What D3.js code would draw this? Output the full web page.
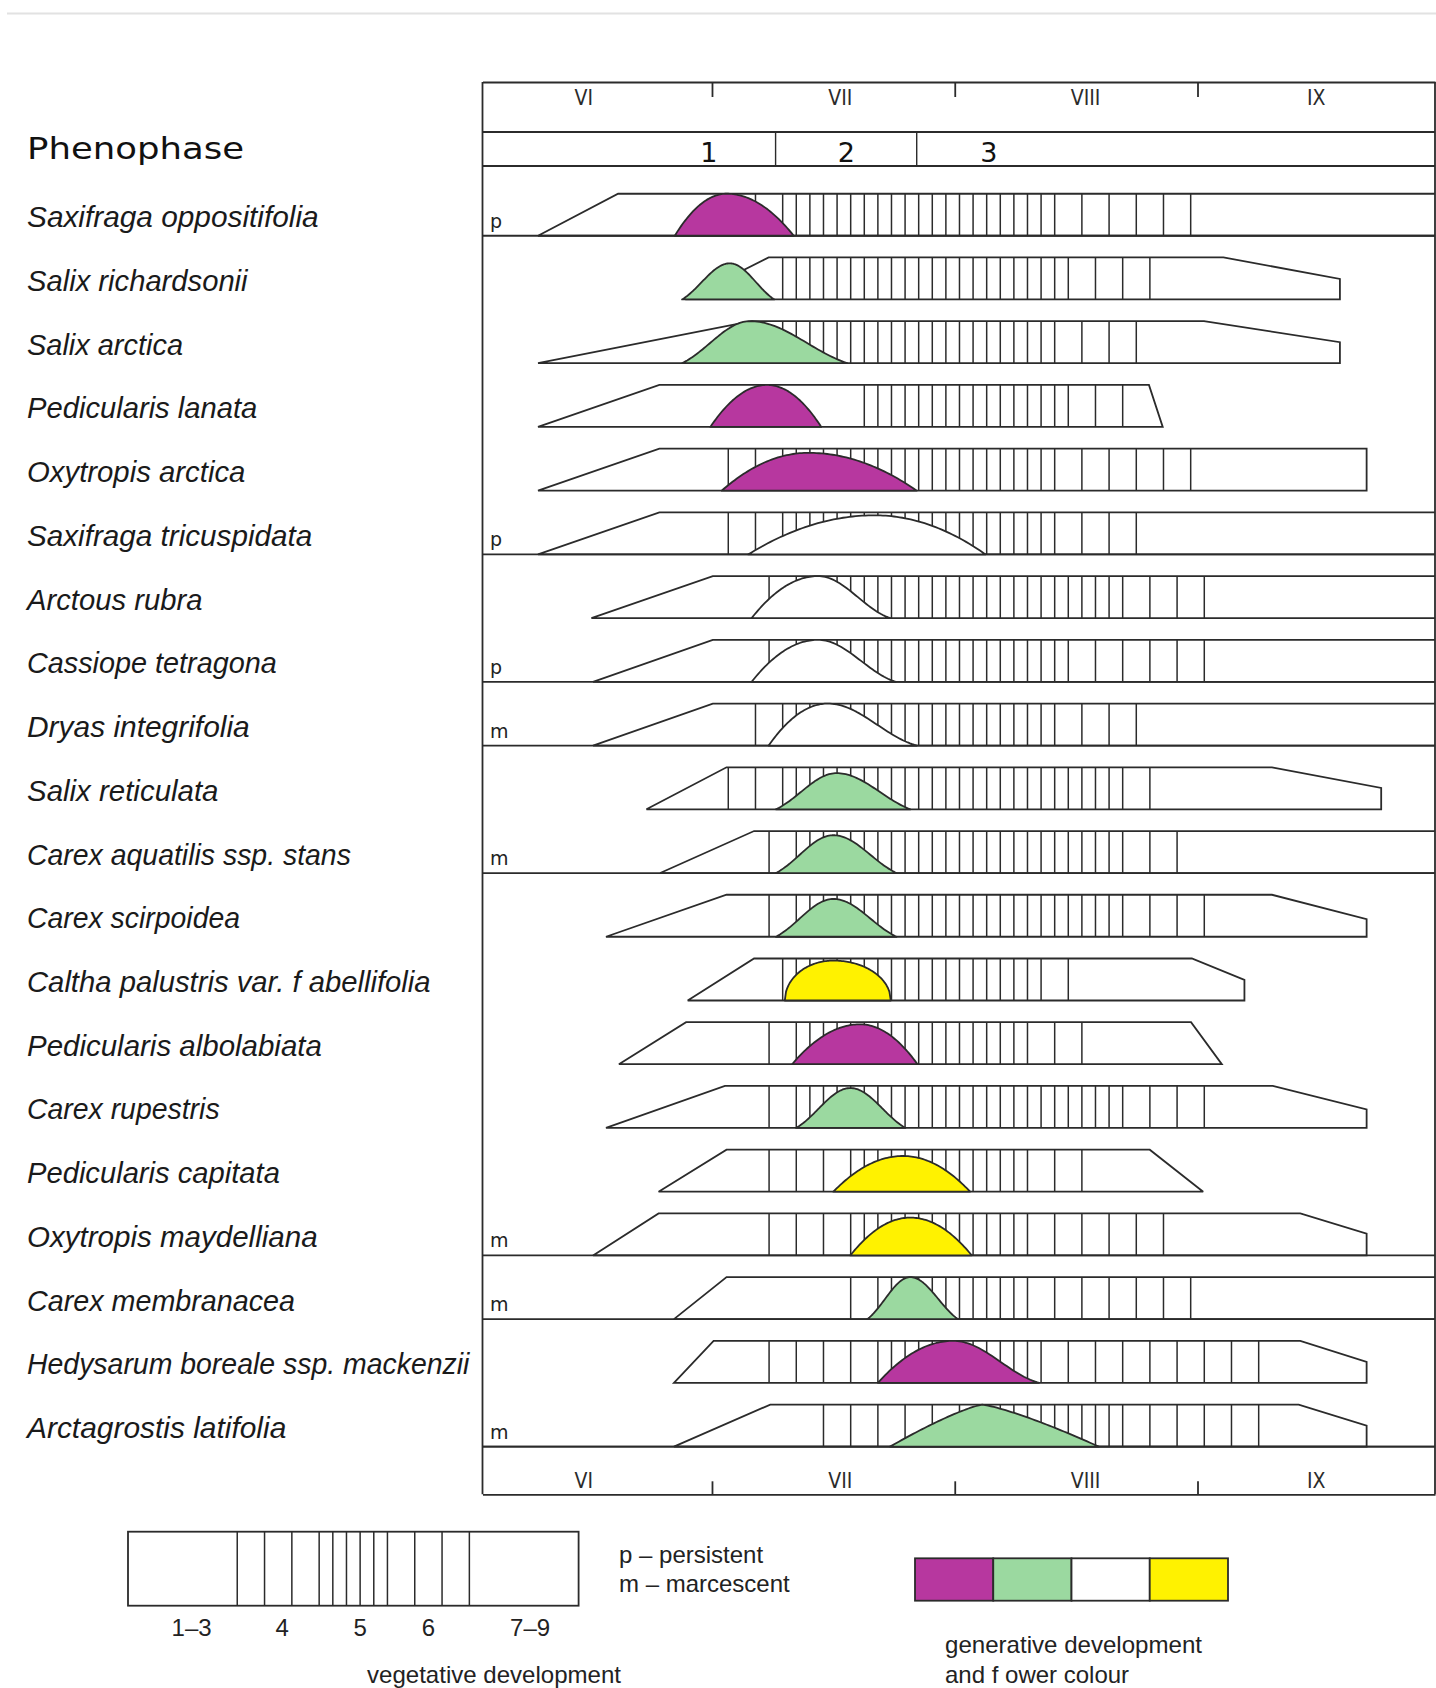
<!DOCTYPE html>
<html>
<head>
<meta charset="utf-8">
<script src="https://cdn.jsdelivr.net/npm/d3@7/dist/d3.min.js"></script>
<style>
html,body{margin:0;padding:0;background:#fff;}
svg{display:block;}
</style>
</head>
<body>
<svg id="chart" width="1436" height="1688"></svg>
<script>
// ================= DATA =================
// Time is counted in days from 1 June; each month is drawn 30 days wide.
const months = ["VI", "VII", "VIII", "IX"];
const monthMid = [14.1, 45.8, 76.1, 104.6];
const monthBounds = [30, 60, 90];

const phenophases = ["1", "2", "3"];
const phenophaseLabelDay = [29.6, 46.6, 64.2];
const phenophaseBounds = [37.86, 55.3];

const species = [
  "Saxifraga oppositifolia", "Salix richardsonii", "Salix arctica", "Pedicularis lanata",
  "Oxytropis arctica", "Saxifraga tricuspidata", "Arctous rubra", "Cassiope tetragona",
  "Dryas integrifolia", "Salix reticulata", "Carex aquatilis ssp. stans", "Carex scirpoidea",
  "Caltha palustris var. f abellifolia", "Pedicularis albolabiata", "Carex rupestris",
  "Pedicularis capitata", "Oxytropis maydelliana", "Carex membranacea",
  "Hedysarum boreale ssp. mackenzii", "Arctagrostis latifolia"
];
// p = persistent, m = marcescent
const leafType = ["p","","","","","p","","p","m","","m","","","","","","m","m","","m"];

// vegetative development outline (days); null = continues past the end of the record
const vegStart        = [8.5, 26.7, 8.5, 8.5, 8.5, 8.5, 15.1, 15.3, 15.3, 21.9, 23.6, 16.9, 27.0, 18.5, 16.9, 23.4, 15.3, 25.3, 25.3, 25.3];
const vegFull         = [18.4, 37.0, 34.9, 23.5, 23.5, 23.5, 30.1, 30.1, 30.1, 31.8, 35.2, 31.8, 35.2, 26.8, 31.6, 31.8, 23.4, 31.8, 30.2, 37.2];
const vegDeclineStart = [null, 93.2, 90.8, 84.0, 110.9, null, null, null, null, 99.2, null, 99.2, 89.3, 89.2, 99.3, 84.1, 102.7, null, 102.7, 102.5];
const vegEnd          = [null, 107.6, 107.6, 85.7, 110.9, null, null, null, null, 112.7, null, 110.9, 95.8, 93.0, 110.9, 90.7, 110.9, null, 110.9, 110.9];
const vegEndLevel     = [null, 0.49, 0.5, 0, 1, null, null, null, null, 0.51, null, 0.42, 0.49, 0, 0.44, 0, 0.52, null, 0.5, 0.5];

// vegetative phases 4, 5, 6 as hatch-cell indices (start of 4, start of 5, start of 6, end of 6)
const phase4   = [20, 22, 22, 28, 18, 18, 21, 21, 20, 18, 21, 21, 22, 21, 21, 21, 21, 27, 21, 25];
const phase5   = [22, 22, 22, 28, 22, 22, 23, 23, 22, 22, 23, 23, 22, 23, 23, 27, 27, 29, 29, 37];
const phase6   = [42, 43, 42, 43, 42, 42, 47, 43, 42, 47, 47, 47, 41, 40, 47, 40, 40, 40, 41, 47];
const phaseEnd = [52, 49, 48, 47, 52, 48, 53, 53, 48, 49, 51, 53, 43, 44, 53, 44, 50, 52, 57, 57];

// generative development (flowering curve), days
const flowerStart = [25.4, 26.3, 26.3, 29.8, 31.2, 34.5, 34.9, 34.9, 37.0, 37.9, 37.9, 37.9, 39.0, 39.9, 40.4, 45.0, 47.1, 49.2, 50.5, 52.0];
const flowerPeak  = [31.8, 32.2, 34.7, 36.8, 41.9, 50.1, 43.1, 43.1, 44.3, 45.4, 45.0, 45.0, 45.0, 48.3, 47.1, 53.6, 54.5, 54.5, 59.8, 63.4];
const flowerEnd   = [40.1, 37.7, 46.7, 43.5, 55.3, 63.8, 52.0, 52.7, 55.3, 54.5, 52.8, 52.8, 52.1, 55.4, 53.9, 61.9, 62.1, 60.4, 70.4, 77.8];
const flowerLevel = [1, 0.86, 1, 1, 0.9, 0.93, 1, 1, 1, 0.86, 0.9, 0.9, 0.95, 0.95, 0.95, 0.85, 0.9, 1, 1, 1];
const flowerColour = ["purple","green","green","purple","purple","white","white","white","white","green","green","green","yellow","purple","green","yellow","yellow","green","purple","green"];
const flowerForm   = ["dome","bell","bell","dome","dome","dome","skew","skew","skew","bell","bell","bell","round","dome","bell","dome","dome","bell","skew","tri"];

// legends
const vegLegendPhases = ["1–3", "4", "5", "6", "7–9"];
const vegLegendCells  = [8, 6, 5, 6, 8];      // width in hatch cells
const vegLegendStep   = [0, 2, 1, 2, 0];      // hatch spacing in cells (0 = none)
const vegLegendLabelAt = [4.66, 11.3, 17.0, 22.0, 29.45];
const leafLegend = ["p – persistent", "m – marcescent"];
const colourLegend = ["purple", "green", "white", "yellow"];

// ================= STYLE / LAYOUT =================
const COLOURS = { purple: "#b7379f", green: "#9bd9a0", white: "#ffffff", yellow: "#fff200" };
const INK = "#2b2b2b";
const FR = { left: 482.5, right: 1435, top: 82, monthLine: 132, phaseLine: 166, rowsTop: 172, rowsBottom: 1446.6, bottom: 1494.3 };
const ROW_H = 42;
const HATCH_ORIGIN = 1.761, HATCH_STEP = 1.6807;   // hatch grid in days
const LABEL_W = [291.6, 220.6, 156, 230.3, 218.4, 285.2, 175.4, 249.7, 222.7, 191.5, 323.9, 213, 403.6, 294.9, 192.6, 252.9, 290.6, 268, 442.4, 259.3];
const SANS = "'Liberation Sans', Arial, sans-serif";
const NARROW = "'Liberation Sans Narrow', 'DejaVu Sans Condensed', 'Liberation Sans', sans-serif";
const LW = 1.8;

// ================= DRAW =================
const svg = d3.select("#chart");
const x = d3.scaleLinear().domain([1.64, 119.35]).range([FR.left, FR.right]);
const y = d3.scaleBand().domain(species).range([FR.rowsTop, FR.rowsBottom]);
const base = s => y(s) + y.bandwidth();
const hatchDay = k => HATCH_ORIGIN + k * HATCH_STEP;

// faint rule at the very top
svg.append("line").attr("x1", 7).attr("x2", 1436).attr("y1", 13.5).attr("y2", 13.5)
  .attr("stroke", "#e2e2e2").attr("stroke-width", 2);

// ---- frame ----
const frame = svg.append("g").attr("stroke", INK).attr("stroke-width", LW).attr("fill", "none");
[FR.monthLine, FR.phaseLine, FR.rowsBottom].forEach(v =>
  frame.append("line").attr("x1", FR.left).attr("x2", FR.right).attr("y1", v).attr("y2", v));
[FR.left, FR.right].forEach(v =>
  frame.append("line").attr("x1", v).attr("x2", v).attr("y1", FR.top).attr("y2", FR.bottom));

// ---- month axes ----
function styleAxis(g) {
  g.selectAll(".domain, .tick line").attr("stroke", INK).attr("stroke-width", LW);
  g.selectAll("text").attr("font-family", NARROW).attr("font-size", 21).attr("fill", INK);
}
svg.append("g").attr("transform", `translate(0,${FR.top})`)
  .call(d3.axisBottom(x).tickValues(monthBounds).tickSize(15).tickSizeOuter(0).tickFormat(""))
  .call(styleAxis);
svg.append("g").attr("transform", `translate(0,${FR.top})`)
  .call(d3.axisBottom(x).tickValues(monthMid).tickSize(0).tickPadding(8).tickFormat((d, i) => months[i]))
  .call(g => g.select(".domain").remove()).call(styleAxis);
svg.append("g").attr("transform", `translate(0,${FR.bottom})`)
  .call(d3.axisTop(x).tickValues(monthBounds).tickSize(13).tickSizeOuter(0).tickFormat(""))
  .call(styleAxis);
svg.append("g").attr("transform", `translate(0,${FR.bottom})`)
  .call(d3.axisTop(x).tickValues(monthMid).tickSize(0).tickPadding(6).tickFormat((d, i) => months[i]))
  .call(g => g.select(".domain").remove()).call(styleAxis);

// ---- phenophase row ----
svg.append("text").attr("x", 27).attr("y", 159).text("Phenophase")
  .attr("font-family", "'DejaVu Sans', sans-serif").attr("font-size", 31).attr("fill", "#111")
  .attr("textLength", 217).attr("lengthAdjust", "spacingAndGlyphs");
svg.append("g").selectAll("line").data(phenophaseBounds).join("line")
  .attr("x1", d => x(d)).attr("x2", d => x(d)).attr("y1", FR.monthLine).attr("y2", FR.phaseLine)
  .attr("stroke", INK).attr("stroke-width", 1.4);
svg.append("g").selectAll("text").data(phenophases).join("text")
  .attr("x", (d, i) => x(phenophaseLabelDay[i])).attr("y", 162).attr("text-anchor", "middle")
  .attr("font-family", "'DejaVu Sans', sans-serif").attr("font-size", 27).attr("fill", "#111").text(d => d);

// ---- species rows ----
const rowsG = svg.append("g");
function formVal(kind, t, side) {
  const cosS = (1 - Math.cos(Math.PI * t)) / 2;
  const dome = 1 - (1 - t) * (1 - t);
  switch (kind) {
    case "dome":  return dome;
    case "round": return Math.sqrt(Math.max(0, 1 - (1 - t) * (1 - t)));
    case "bell":  return 0.6 * cosS + 0.4 * dome;
    case "tri":   return 1 - Math.pow(1 - t, 1.25);
    case "skew":  return side === "L" ? dome : 0.7 * cosS + 0.3 * dome;
  }
  return t;
}

species.forEach((s, i) => {
  const b = base(s);
  const line = d3.line().x(d => x(d[0])).y(d => b - d[1] * ROW_H);
  const g = rowsG.append("g");

  // full-width separator for persistent / marcescent rows
  if (leafType[i]) {
    g.append("line").attr("x1", FR.left).attr("x2", FR.right).attr("y1", b).attr("y2", b)
      .attr("stroke", INK).attr("stroke-width", LW);
  }

  // hatching (vegetative phases 4–6)
  const ks = [
    ...d3.range(phase4[i], phase5[i], 2),
    ...d3.range(phase5[i], phase6[i], 1),
    ...d3.range(phase6[i], phaseEnd[i] + 1, 2)
  ];
  g.append("g").selectAll("line").data(ks).join("line")
    .attr("x1", k => x(hatchDay(k))).attr("x2", k => x(hatchDay(k)))
    .attr("y1", b).attr("y2", b - ROW_H)
    .attr("stroke", INK).attr("stroke-width", 1.5);

  // vegetative outline
  const edge = x.domain()[1];
  let pts, closed;
  if (vegEnd[i] == null) {
    pts = [[edge, 0], [vegStart[i], 0], [vegFull[i], 1], [edge, 1]];
    closed = false;
  } else {
    pts = [[vegStart[i], 0], [vegFull[i], 1], [vegDeclineStart[i], 1], [vegEnd[i], vegEndLevel[i]], [vegEnd[i], 0]];
    closed = true;
  }
  g.append("path").attr("d", line(pts) + (closed ? "Z" : ""))
    .attr("fill", "none").attr("stroke", INK).attr("stroke-width", LW)
    .attr("stroke-linejoin", "miter").attr("stroke-miterlimit", 3);

  // flowering curve
  const n = 40, fp = [];
  for (let j = 0; j <= n; j++) {
    const t = j / n;
    fp.push([flowerStart[i] + t * (flowerPeak[i] - flowerStart[i]), flowerLevel[i] * formVal(flowerForm[i], t, "L")]);
  }
  for (let j = n - 1; j >= 0; j--) {
    const t = j / n;
    fp.push([flowerPeak[i] + (1 - t) * (flowerEnd[i] - flowerPeak[i]), flowerLevel[i] * formVal(flowerForm[i], t, "R")]);
  }
  g.append("path").attr("d", line(fp) + "Z")
    .attr("fill", COLOURS[flowerColour[i]]).attr("stroke", INK).attr("stroke-width", LW)
    .attr("stroke-linejoin", "round");

  // p / m marker
  if (leafType[i]) {
    g.append("text").attr("x", 490).attr("y", b - 8).text(leafType[i])
      .attr("font-family", "'DejaVu Sans', sans-serif").attr("font-size", 19).attr("fill", "#222");
  }
});

// species names
svg.append("g").selectAll("text").data(species).join("text")
  .attr("x", 27).attr("y", s => base(s) - 8.5).text(d => d)
  .attr("font-family", SANS).attr("font-style", "italic").attr("font-size", 30).attr("fill", "#1a1a1a")
  .attr("textLength", (d, i) => LABEL_W[i]).attr("lengthAdjust", "spacingAndGlyphs");

// ---- vegetative legend ----
const totalCells = d3.sum(vegLegendCells);
const lx = d3.scaleLinear().domain([0, totalCells]).range([128, 578.6]);
const LY0 = 1531.7, LY1 = 1605.7;
const leg = svg.append("g");
leg.append("rect").attr("x", lx(0)).attr("y", LY0).attr("width", lx(totalCells) - lx(0)).attr("height", LY1 - LY0)
  .attr("fill", "#fff").attr("stroke", INK).attr("stroke-width", LW);
let acc = 0;
const legLines = [];
vegLegendCells.forEach((c, i) => {
  if (vegLegendStep[i] > 0) {
    d3.range(acc, acc + c + 0.001, vegLegendStep[i]).forEach(v => legLines.push(v));
  }
  acc += c;
});
leg.selectAll("line").data(Array.from(new Set(legLines))).join("line")
  .attr("x1", d => lx(d)).attr("x2", d => lx(d)).attr("y1", LY0).attr("y2", LY1)
  .attr("stroke", INK).attr("stroke-width", 1.5);
leg.selectAll("text.lab").data(vegLegendPhases).join("text").attr("class", "lab")
  .attr("x", (d, i) => lx(vegLegendLabelAt[i])).attr("y", 1636).attr("text-anchor", "middle")
  .attr("font-family", SANS).attr("font-size", 24).attr("fill", "#222").text(d => d);
leg.append("text").attr("x", 494).attr("y", 1682.5).attr("text-anchor", "middle")
  .attr("font-family", SANS).attr("font-size", 24).attr("fill", "#222").text("vegetative development")
  .attr("textLength", 254).attr("lengthAdjust", "spacingAndGlyphs");

leg.selectAll("text.leaf").data(leafLegend).join("text").attr("class", "leaf")
  .attr("x", 619).attr("y", (d, i) => 1563 + i * 28.5)
  .attr("font-family", SANS).attr("font-size", 24).attr("fill", "#222").text(d => d);

// ---- colour legend ----
const cx = d3.scaleBand().domain(colourLegend).range([915, 1228]);
leg.selectAll("rect.sw").data(colourLegend).join("rect").attr("class", "sw")
  .attr("x", d => cx(d)).attr("y", 1558.3).attr("width", cx.bandwidth()).attr("height", 42.4)
  .attr("fill", d => COLOURS[d]).attr("stroke", INK).attr("stroke-width", LW);
leg.append("text").attr("x", 945).attr("y", 1653).attr("font-family", SANS).attr("font-size", 24)
  .attr("fill", "#222").text("generative development")
  .attr("textLength", 257).attr("lengthAdjust", "spacingAndGlyphs");
leg.append("text").attr("x", 945).attr("y", 1682.5).attr("font-family", SANS).attr("font-size", 24)
  .attr("fill", "#222").text("and f ower colour");
</script>
</body>
</html>
